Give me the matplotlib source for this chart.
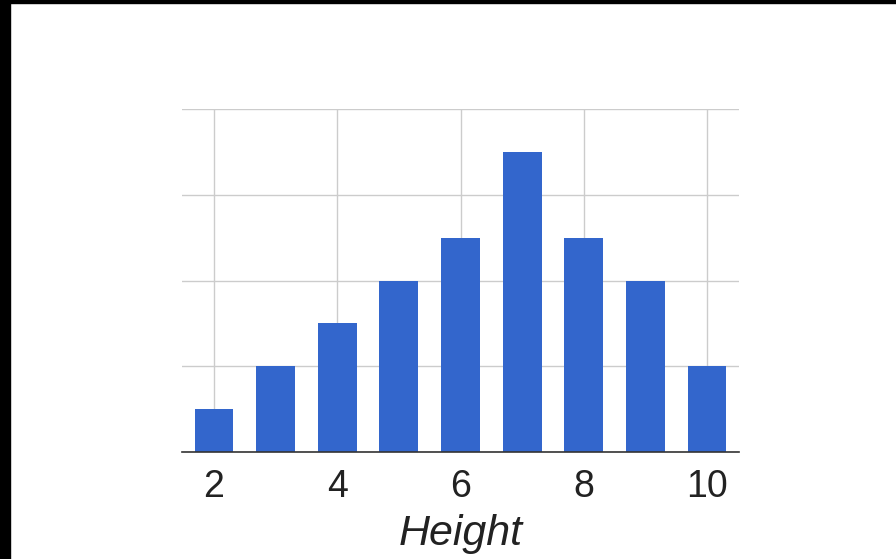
import matplotlib.pyplot as plt
from matplotlib.patches import Rectangle

heights = [2, 3, 4, 5, 6, 7, 8, 9, 10]
counts = [1, 2, 3, 4, 5, 7, 5, 4, 2]
x_ticks = [2, 4, 6, 8, 10]
y_ticks = [0, 2, 4, 6, 8]

W, H = 896, 559
fig = plt.figure(figsize=(W / 100, H / 100), dpi=100)
plt.rcParams['font.family'] = ['Liberation Sans', 'DejaVu Sans']

# plot area in pixels: left 182, right 739, top 109, bottom 452
ax = fig.add_axes([182 / W, 1 - 452 / H, (739 - 182) / W, (452 - 109) / H])
ax.bar(heights, counts, width=0.63, color='#3366CC', zorder=2)
ax.set_xlim(1.48, 10.52)
ax.set_ylim(0, 8)
ax.set_xticks(x_ticks)
ax.set_yticks(y_ticks)
ax.set_yticklabels([])
ax.grid(True, color='#CCCCCC', linewidth=1, zorder=0)
ax.tick_params(axis='both', length=0)
ax.tick_params(axis='x', labelsize=27, labelcolor='#222222', pad=12)
for side in ['top', 'right', 'left']:
    ax.spines[side].set_visible(False)
ax.spines['bottom'].set_color('#333333')
ax.spines['bottom'].set_linewidth(1.2)
ax.spines['bottom'].set_zorder(3)
ax.set_xlabel('Height', fontsize=31, style='italic', color='#222222', labelpad=7)

# black frame bands on top and left edges
fig.patches.append(Rectangle((0, 1 - 3 / H), 1, 3 / H, transform=fig.transFigure,
                             color='black', zorder=10))
fig.patches.append(Rectangle((0, 0), 10 / W, 1, transform=fig.transFigure,
                             color='black', zorder=10))

fig.savefig('out.png', dpi=100)
